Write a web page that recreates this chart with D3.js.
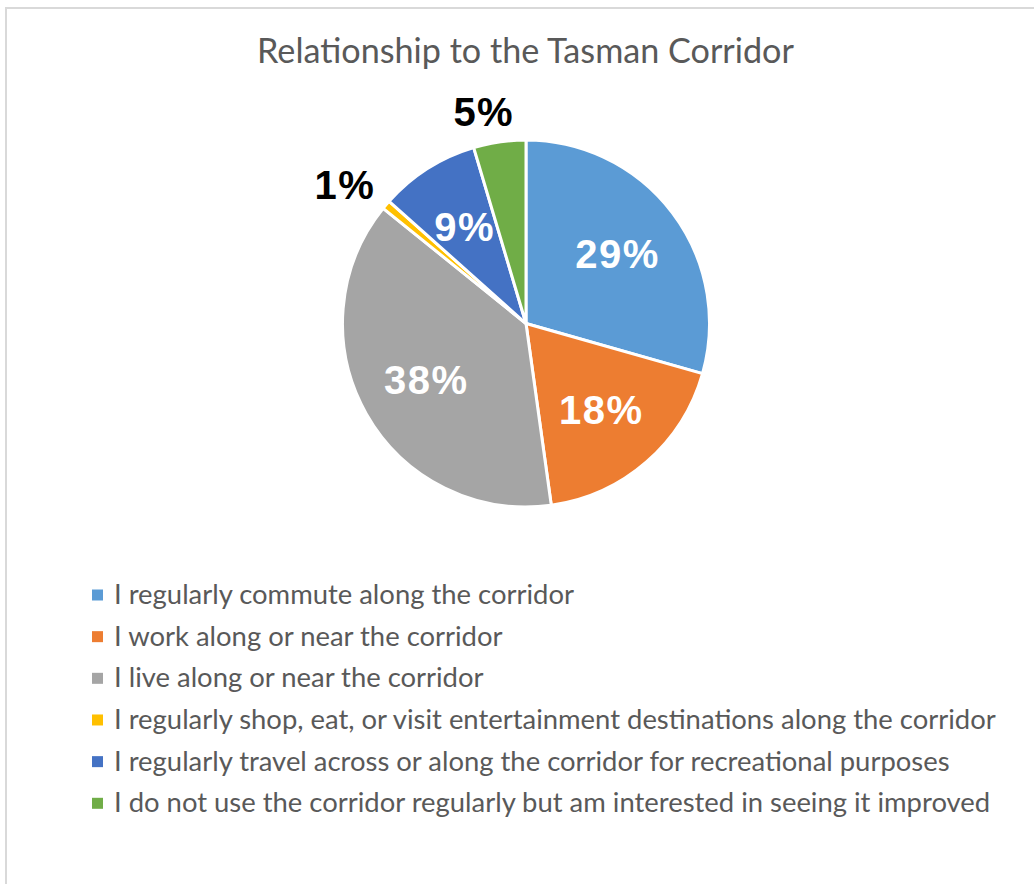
<!DOCTYPE html>
<html>
<head>
<meta charset="utf-8">
<script src="https://cdn.jsdelivr.net/npm/d3@7"></script>
<style>
  html, body { margin: 0; padding: 0; background: #fff; }
  svg { display: block; }
</style>
</head>
<body>
<svg id="chart" width="1034" height="884"></svg>
<script>
const title = "Relationship to the Tasman Corridor";
const categories = [
  "I regularly commute along the corridor",
  "I work along or near the corridor",
  "I live along or near the corridor",
  "I regularly shop, eat, or visit entertainment destinations along the corridor",
  "I regularly travel across or along the corridor for recreational purposes",
  "I do not use the corridor regularly but am interested in seeing it improved"
];
const values = [29.4, 18.4, 38.0, 0.8, 8.8, 4.6];
const colors = ["#5B9BD5", "#ED7D31", "#A5A5A5", "#FFC000", "#4472C4", "#70AD47"];

const svg = d3.select("#chart");
const W = 1034, H = 884;

// chart border (light gray)
svg.append("rect")
  .attr("x", 6).attr("y", 8)
  .attr("width", W + 20).attr("height", H + 20)
  .attr("fill", "#fff").attr("stroke", "#D9D9D9").attr("stroke-width", 2);

// title
const titleText = svg.append("text")
  .attr("x", 525.5).attr("y", 63)
  .attr("text-anchor", "middle")
  .attr("fill", "#595959")
  .style("font-family", "Lato, 'Open Sans', sans-serif")
  .style("font-size", "30px")
  .text(title);
{
  const w = titleText.node().getComputedTextLength();
  titleText.style("font-size", (30 * 537 / w) + "px");
}

// pie
const cx = 526, cy = 323.5, r = 183.5;
const g = svg.append("g").attr("transform", `translate(${cx},${cy})`);
const pie = d3.pie().sort(null).value(d => d);
const arcs = pie(values);
const arc = d3.arc().innerRadius(0).outerRadius(r);

g.selectAll("path.slice")
  .data(arcs)
  .join("path")
  .attr("class", "slice")
  .attr("d", arc)
  .attr("fill", (d, i) => colors[i])
  .attr("stroke", "#fff")
  .attr("stroke-width", 3)
  .attr("stroke-linejoin", "round");

// data labels
const fmt = v => Math.round(v) + "%";
const labelG = g.append("g");
arcs.forEach((d, i) => {
  const v = values[i];
  const inside = v >= 6;
  const mid = (d.startAngle + d.endAngle) / 2;
  let x, y;
  const t = labelG.append("text")
    .attr("text-anchor", "middle")
    .attr("dominant-baseline", "central")
    .attr("fill", inside ? "#fff" : "#000")
    .style("font-family", "'Liberation Sans', Arial, sans-serif")
    .style("font-weight", "bold")
    .style("font-size", "40px")
    .style("letter-spacing", "1.5px")
    .text(fmt(v));
  if (inside) {
    const rr = r * 0.625;
    x = Math.sin(mid) * rr;
    y = -Math.cos(mid) * rr;
  } else {
    const a = mid - 3 * Math.PI / 180;
    const bw = 58, bh = 30, pad = 12;
    const rr = r + pad + Math.abs(Math.sin(a)) * bw / 2 + Math.abs(Math.cos(a)) * bh / 2;
    x = Math.sin(a) * rr;
    y = -Math.cos(a) * rr;
  }
  t.attr("x", x).attr("y", y);
});

// legend
const legend = svg.append("g");
const rowY = d3.scalePoint().domain(d3.range(categories.length)).range([595, 803.3]);
const items = legend.selectAll("g.item")
  .data(categories)
  .join("g")
  .attr("class", "item")
  .attr("transform", (d, i) => `translate(92,${rowY(i)})`);
items.append("rect")
  .attr("x", 0).attr("y", -5.5)
  .attr("width", 11).attr("height", 11)
  .attr("fill", (d, i) => colors[i]);
const legTexts = items.append("text")
  .attr("x", 22).attr("y", 9)
  .attr("fill", "#595959")
  .style("font-family", "Lato, 'Open Sans', sans-serif")
  .style("font-size", "24px")
  .text(d => d);
{
  const w = legTexts.nodes()[3].getComputedTextLength();
  legTexts.style("font-size", (24 * 882 / w) + "px");
}
</script>
</body>
</html>
